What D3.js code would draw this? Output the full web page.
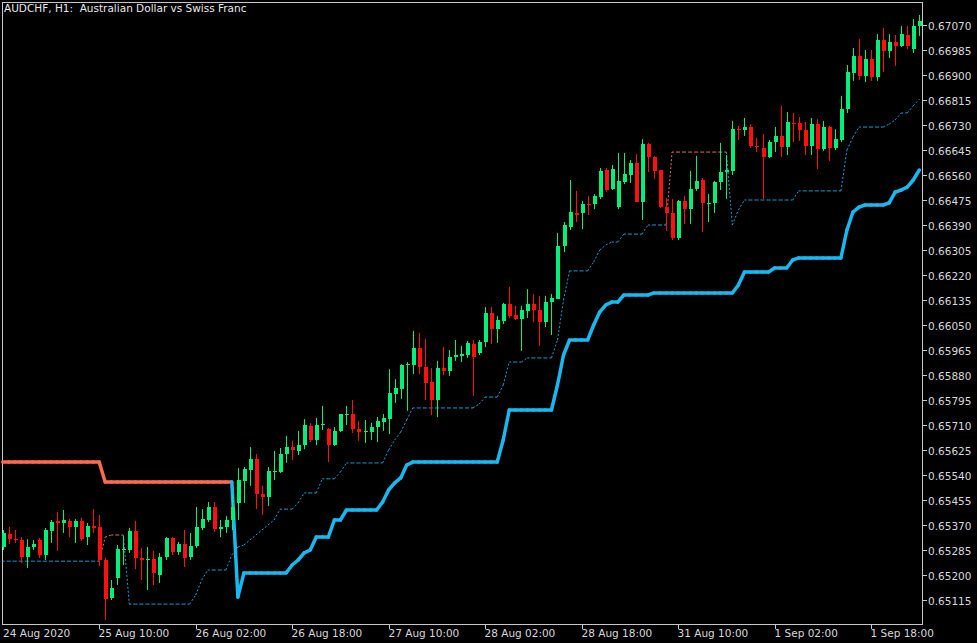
<!DOCTYPE html>
<html><head><meta charset="utf-8">
<script src="https://cdn.jsdelivr.net/npm/d3@7"></script>
<style>html,body{margin:0;padding:0;background:#000;}svg{display:block;}</style>
</head><body>
<script>
// OHLC in points (1e-5)
const opens=[65295,65339,65322,65319,65261,65295,65319,65268,65350,65384,65377,65384,65363,65384,65329,65367,65363,65251,65122,65190,65285,65285,65350,65258,65251,65254,65200,65261,65326,65278,65305,65261,65299,65360,65387,65431,65356,65363,65387,65445,65520,65557,65594,65475,65465,65550,65550,65611,65635,65622,65642,65707,65659,65710,65696,65642,65690,65744,65747,65696,65686,65686,65703,65720,65730,65815,65832,65914,65914,65972,65907,65856,65795,65904,65894,65941,65945,65948,65985,65955,65992,66091,66036,66064,66121,66084,66070,66098,66121,66101,66060,66128,66138,66319,66383,66431,66431,66461,66461,66485,66577,66512,66451,66536,66560,66601,66468,66665,66621,66577,66451,66431,66346,66472,66444,66512,66543,66461,66465,66536,66570,66574,66716,66713,66723,66659,66652,66621,66672,66693,66655,66737,66737,66713,66659,66733,66648,66723,66652,66679,66784,66907,66965,66897,66954,66893,67019,66982,67012,66999,67036,66988,67067];
const highs=[65353,65363,65353,65329,65322,65319,65326,65360,65387,65414,65421,65390,65390,65394,65377,65424,65404,65258,65183,65302,65333,65360,65384,65292,65295,65282,65275,65329,65329,65312,65353,65343,65431,65424,65448,65448,65387,65401,65475,65564,65567,65635,65611,65503,65567,65622,65632,65673,65656,65690,65730,65717,65734,65775,65700,65703,65747,65775,65795,65724,65727,65717,65737,65747,65900,65866,65917,65924,66030,66023,66003,65904,65928,65975,65965,65999,65979,65996,65999,65999,66111,66111,66081,66125,66179,66115,66115,66172,66155,66149,66149,66155,66363,66400,66543,66506,66472,66489,66495,66584,66584,66594,66635,66635,66611,66631,66682,66669,66625,66577,66482,66478,66475,66489,66574,66625,66550,66495,66540,66669,66628,66744,66727,66754,66733,66686,66699,66679,66723,66795,66774,66771,66757,66740,66754,66750,66744,66727,66716,66829,66934,66992,67022,66985,66985,67039,67060,67039,67036,67067,67067,67090,67104];
const lows=[65285,65305,65309,65241,65224,65285,65258,65251,65309,65282,65343,65329,65309,65316,65302,65343,65231,65047,65115,65166,65234,65275,65220,65183,65149,65166,65173,65251,65268,65268,65227,65251,65292,65353,65380,65346,65329,65343,65353,65387,65445,65503,65424,65404,65435,65523,65547,65581,65591,65608,65628,65652,65642,65693,65584,65639,65686,65710,65683,65656,65649,65659,65652,65690,65679,65785,65798,65758,65883,65883,65795,65744,65737,65880,65877,65928,65924,65938,65809,65948,65975,65985,65989,66053,66074,66067,65962,66074,66060,65979,66043,66016,66138,66298,66373,66400,66376,66424,66444,66478,66502,66509,66444,66529,66533,66468,66407,66570,66546,66448,66370,66339,66339,66393,66393,66506,66366,66400,66431,66509,66478,66560,66679,66693,66652,66638,66478,66618,66638,66621,66628,66672,66676,66628,66628,66580,66641,66608,66645,66672,66771,66880,66883,66876,66880,66880,66910,66958,66931,66995,66988,66975,67033];
const closes=[65343,65322,65319,65261,65295,65305,65268,65353,65380,65377,65387,65363,65384,65322,65367,65360,65251,65118,65156,65288,65288,65350,65258,65251,65254,65207,65261,65326,65278,65305,65258,65299,65363,65390,65431,65356,65363,65387,65431,65523,65560,65594,65475,65465,65554,65554,65611,65635,65625,65642,65710,65659,65710,65713,65642,65690,65747,65747,65696,65686,65690,65703,65724,65734,65819,65836,65914,65917,65972,65907,65853,65795,65904,65894,65941,65948,65951,65989,65941,65992,66091,66036,66067,66121,66081,66070,66101,66121,66101,66060,66128,66142,66319,66390,66434,66424,66461,66458,66489,66574,66509,66580,66540,66563,66601,66468,66665,66621,66574,66451,66431,66346,66472,66444,66512,66540,66465,66465,66536,66570,66577,66716,66713,66723,66659,66655,66621,66672,66693,66655,66740,66733,66713,66659,66733,66648,66723,66652,66682,66784,66910,66965,66897,66954,66893,67019,66982,67012,66999,67039,66999,67067,67084];
// thick trailing line and dotted line (points), trend: 1 up(blue) / -1 down(red)
const thick=[65584,65584,65584,65584,65584,65584,65584,65584,65584,65584,65584,65584,65584,65584,65584,65584,65584,65516,65516,65516,65516,65516,65516,65516,65516,65516,65516,65516,65516,65516,65516,65516,65516,65516,65516,65516,65516,65516,65516,65125,65207,65207,65207,65207,65207,65207,65207,65207,65234,65251,65275,65285,65329,65329,65329,65387,65387,65421,65421,65421,65421,65421,65421,65448,65489,65513,65530,65574,65584,65584,65584,65584,65584,65584,65584,65584,65584,65584,65584,65584,65584,65584,65584,65659,65761,65761,65761,65761,65761,65761,65761,65761,65846,65948,65999,65999,65999,65999,66050,66094,66118,66128,66128,66152,66152,66152,66152,66152,66159,66159,66159,66159,66159,66159,66159,66159,66159,66159,66159,66159,66159,66159,66186,66230,66230,66230,66230,66230,66244,66244,66244,66271,66278,66278,66278,66278,66278,66278,66278,66278,66373,66434,66451,66458,66458,66458,66458,66465,66502,66509,66519,66543,66577];
const thickTrend=d3.range(153).map(i=>i<39?-1:1);
const dotted=[65247,65247,65247,65247,65247,65247,65247,65247,65247,65247,65247,65247,65247,65247,65247,65247,65247,65329,65336,65336,65336,65101,65101,65101,65101,65101,65101,65101,65101,65101,65101,65101,65132,65183,65217,65217,65217,65217,65268,65295,65302,65319,65336,65353,65370,65387,65424,65424,65424,65445,65479,65479,65479,65527,65527,65527,65550,65581,65581,65581,65581,65581,65581,65581,65625,65659,65686,65727,65768,65768,65768,65768,65768,65768,65768,65768,65768,65768,65768,65781,65805,65805,65805,65846,65924,65924,65924,65938,65938,65938,65938,65938,65999,66135,66234,66234,66234,66234,66264,66305,66322,66332,66332,66359,66359,66359,66359,66390,66390,66390,66390,66638,66638,66638,66638,66638,66638,66638,66638,66638,66638,66390,66441,66475,66475,66475,66475,66475,66475,66475,66475,66475,66506,66506,66506,66506,66506,66506,66506,66506,66645,66689,66723,66723,66723,66723,66723,66733,66747,66771,66771,66795,66818];
const dottedTrend=d3.range(153).map(i=>((i>=17&&i<=20)||(i>=111&&i<=120))?-1:1);
const yTicks=d3.range(24).map(k=>65115+85*k);
const xLabelIdx=[0,16,32,48,64,80,96,112,128,144];
const xLabels=["24 Aug 2020","25 Aug 10:00","26 Aug 02:00","26 Aug 18:00","27 Aug 10:00","28 Aug 02:00","28 Aug 18:00","31 Aug 10:00","1 Sep 02:00","1 Sep 18:00"];
const title="AUDCHF, H1:  Australian Dollar vs Swiss Franc";

const W=977,H=643;
const svg=d3.select("body").append("svg").attr("width",W).attr("height",H).style("background","#000")
  .style("font-family","Tahoma, 'DejaVu Sans', sans-serif");
const x=d3.scaleLinear().domain([0,152]).range([2.7,919.3]);
const y=d3.scaleLinear().domain([0.65115,0.67070]).range([600,25]);
const P=v=>v/1e5;
const cx=i=>Math.round(x(i))+0.5;

svg.append("rect").attr("x",2.5).attr("y",2.5).attr("width",920).attr("height",622).attr("fill","none").attr("stroke","#c8c8c8");

function drawSegs(vals,trend,colUp,colDn,width,dash){
  for(let i=1;i<vals.length;i++){
    svg.append("line").attr("x1",x(i-1)).attr("x2",x(i)).attr("y1",y(P(vals[i-1]))).attr("y2",y(P(vals[i])))
      .attr("stroke",trend[i]>0?colUp:colDn).attr("stroke-width",width).attr("stroke-dasharray",dash||null)
      .attr("stroke-linecap",dash?"butt":"round");
  }
}
drawSegs(dotted,dottedTrend,"#1e9fd8","#e8735a",1,"2,2");
drawSegs(thick,thickTrend,"#19b8f0","#ff6a50",3.5);

const g=svg.append("g");
d3.range(153).forEach(i=>{
  const up=closes[i]>=opens[i];
  const col=up?"#00f07a":"#ff1010";
  g.append("line").attr("x1",cx(i)).attr("x2",cx(i)).attr("y1",y(P(highs[i]))).attr("y2",y(P(lows[i]))).attr("stroke",col).attr("stroke-width",1);
  const t=y(P(Math.max(opens[i],closes[i]))), b=y(P(Math.min(opens[i],closes[i])));
  g.append("rect").attr("x",Math.round(x(i))-1.5).attr("y",Math.round(t)).attr("width",4).attr("height",Math.max(1,Math.round(b-t)))
    .attr("fill",col).attr("shape-rendering","crispEdges");
});

const ya=svg.append("g");
yTicks.forEach(v=>{
  const yy=Math.round(y(P(v)))+0.5;
  ya.append("line").attr("x1",923).attr("x2",927).attr("y1",yy).attr("y2",yy).attr("stroke","#c8c8c8");
  ya.append("text").attr("x",928).attr("y",yy+4).attr("fill","#d8d8d8").attr("font-size",10.5).text((v/1e5).toFixed(5));
});
xLabelIdx.forEach((idx,k)=>{
  const xx=Math.round(x(idx))+0.5;
  if(k>0) svg.append("line").attr("x1",xx).attr("x2",xx).attr("y1",625).attr("y2",629).attr("stroke","#c8c8c8");
  svg.append("text").attr("x",k===0?3:xx-1).attr("y",637).attr("fill","#d8d8d8").attr("font-size",10.5).text(xLabels[k]);
});
svg.append("text").attr("x",4).attr("y",12).attr("fill","#e8e8e8").attr("font-size",10.5)
  .style("white-space","pre").text(title);
</script>
</body></html>
